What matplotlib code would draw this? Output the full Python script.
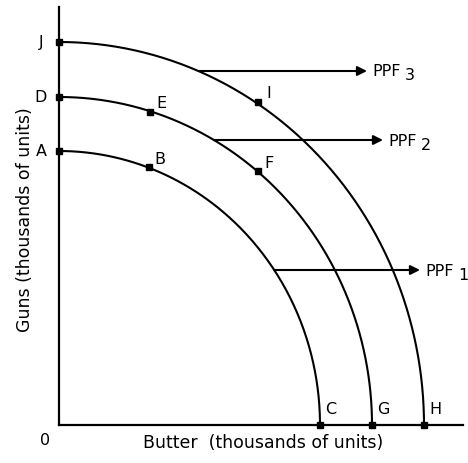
import matplotlib.pyplot as plt
import numpy as np

# intercepts of the three frontiers (guns axis, butter axis)
gun_max = [274, 328, 383]
butter_max = [261, 313, 365]
ppf_names = ['PPF', 'PPF', 'PPF']
ppf_subs = ['1', '2', '3']
arrow_y = [155, 285, 354]
arrow_end = [361, 324, 308]

# labelled points: (x, y, label)
end_labels = ['A', 'D', 'J']
mid_pts_x = [90, 91, 199, 199]
mid_pts_y = [258, 313, 254, 323]
mid_labels = ['B', 'E', 'F', 'I']
bottom_labels = ['C', 'G', 'H']

fig = plt.figure(figsize=(4.68, 4.64), dpi=100)
W, H = 468, 464
ax = fig.add_axes([59 / W, (H - 426) / H, (463 - 59) / W, (426 - 8) / H])
ax.set_xlim(0, 404)
ax.set_ylim(0, 418)
for s in ['top', 'right']:
    ax.spines[s].set_visible(False)
for s in ['left', 'bottom']:
    ax.spines[s].set_linewidth(1.6)
ax.set_xticks([])
ax.set_yticks([])

fs = 11.5
t = np.linspace(0, np.pi / 2, 300)
for g, b in zip(gun_max, butter_max):
    ax.plot(b * np.sin(t), g * np.cos(t), color='black', lw=1.5, clip_on=False)
    ax.plot([0], [g], 's', color='black', ms=5, clip_on=False)
    ax.plot([b], [0], 's', color='black', ms=5, clip_on=False)

for i in range(3):
    g, b = gun_max[i], butter_max[i]
    x0 = b * np.sqrt(1 - (arrow_y[i] / g) ** 2)
    ax.annotate('', xy=(arrow_end[i], arrow_y[i]), xytext=(x0, arrow_y[i]),
                arrowprops=dict(arrowstyle='-|>', color='black', lw=1.5,
                                mutation_scale=14, shrinkA=0, shrinkB=0),
                annotation_clip=False)
    ax.text(arrow_end[i] + 5, arrow_y[i], ppf_names[i], fontsize=fs,
            va='center', ha='left')
    ax.text(arrow_end[i] + 38, arrow_y[i] - 4, ppf_subs[i], fontsize=fs,
            va='center', ha='left')
    ax.text(-18, g, end_labels[i], fontsize=fs, ha='center', va='center')
    ax.text(b + 11, 16, bottom_labels[i], fontsize=fs, ha='center', va='center')

ax.plot(mid_pts_x, mid_pts_y, 's', color='black', ms=5)
for x, y, lab in zip(mid_pts_x, mid_pts_y, mid_labels):
    ax.text(x + 11, y + 9, lab, fontsize=fs, ha='center', va='center')

ax.text(-14, -15, '0', fontsize=fs, ha='center', va='center', clip_on=False)
ax.text(204, -17, 'Butter  (thousands of units)', fontsize=12.5,
        ha='center', va='center')
ax.text(-34, 206, 'Guns (thousands of units)', fontsize=12.5, rotation=90,
        ha='center', va='center')

fig.savefig('out.png', dpi=100)
